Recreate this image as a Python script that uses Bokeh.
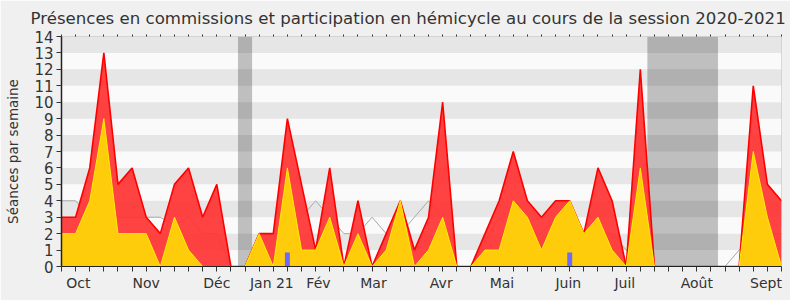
from bokeh.plotting import figure
from bokeh.models import FixedTicker, LinearAxis, Range1d
from bokeh.embed import file_html
from bokeh.resources import INLINE

# ---- data (one value per week, session 2020-2021) ----
semaines = list(range(52))
presences = [3, 3, 6, 13, 5, 6, 3, 2, 5, 6, 3, 5, 0, 0, 2, 2, 9, 5, 1, 6,
             0, 4, 0, 2, 4, 1, 3, 10, 0, 0, 2, 4, 7, 4, 3, 4, 4, 2, 6, 4,
             0, 12, 0, 0, 0, 0, 0, 0, 0, 11, 5, 4]
participations = [2, 2, 4, 9, 2, 2, 2, 0, 3, 1, 0, 0, 0, 0, 2, 0, 6, 1, 1, 3,
                  0, 2, 0, 1, 4, 0, 1, 3, 0, 0, 1, 1, 4, 3, 1, 3, 4, 2, 3, 1,
                  0, 6, 0, 0, 0, 0, 0, 0, 0, 7, 3, 0]
mediane = [4, 4, 3, 4, 3, 3, 3, 3, 2.5, 3, 2, 2, 0, 0, 2, 2, 2, 3, 4, 3,
           2, 2, 3, 2, 2, 3, 4, 3, 0, 0, 1.5, 3, 2, 2, 2, 3, 2, 1, 2, 2,
           1, 1, 0, 0, 0, 0, 0, 0, 1, 2, 2, 2]
questions = [0] * 52
questions[16] = 1
questions[36] = 1
vacances = [13, 42, 43, 44, 45, 46]
mois = ["Oct", "Nov", "Déc", "Jan 21", "Fév", "Mar", "Avr", "Mai", "Juin",
        "Juil", "Août", "Sept"]
mois_pos = [1.2, 6, 11, 14.9, 18.2, 22.1, 26.9, 31.2, 35.9, 39.9, 45, 49.9]
y_ticks = list(range(15))

TXT = "#333333"
FONT = "DejaVu Sans"

# group holiday weeks into contiguous runs
runs = []
for w in vacances:
    if runs and w == runs[-1][1] + 1:
        runs[-1][1] = w
    else:
        runs.append([w, w])
vac_left = [a - 0.5 for a, b in runs]
vac_right = [b + 0.5 for a, b in runs]

p = figure(width=790, height=300, output_backend="svg", toolbar_location=None,
           x_range=Range1d(0, 51), y_range=Range1d(0, 14),
           min_border_left=61, min_border_right=9, min_border_top=36,
           min_border_bottom=34,
           background_fill_color="#fafafa", border_fill_color="#f0f0f0",
           outline_line_color="#d8d8d8")

p.title.text = ("Présences en commissions et participation en hémicycle "
                "au cours de la session 2020-2021")
p.title.text_font = FONT
p.title.text_font_size = "16.6px"
p.title.text_font_style = "normal"
p.title.text_color = TXT
p.title.align = "left"
p.title.offset = -31
p.title.standoff = 13

# holidays (drawn below the grid bands)
vac = p.quad(left=vac_left, right=vac_right, bottom=0, top=14,
             fill_color="#bfbfbf", line_color=None)
vac.level = "image"

# grid bands
p.xgrid.visible = False
p.ygrid.ticker = FixedTicker(ticks=y_ticks)
p.ygrid.grid_line_color = None
p.ygrid.band_fill_color = "black"
p.ygrid.band_fill_alpha = 0.08

# median line
p.line(semaines, mediane, line_color="#a8a8a8", line_width=1)

# areas
p.varea(x=semaines, y1=0, y2=presences, fill_color="#ff3333", fill_alpha=0.92)
p.line(semaines, presences, line_color="#ff0000", line_width=1.6)
p.varea(x=semaines, y1=0, y2=participations, fill_color="#ffd40a",
        fill_alpha=0.95)
p.line(semaines, participations, line_color="#ffee00", line_width=1)

# oral questions
p.vbar(x=semaines, width=0.35, bottom=0, top=[q * 0.85 for q in questions],
       fill_color="#6b6bff", line_color=None)

# axes
xa = p.xaxis[0]
xa.ticker = FixedTicker(ticks=mois_pos, minor_ticks=semaines)
xa.major_label_overrides = {m_pos: m for m_pos, m in zip(mois_pos, mois)}
xa.major_tick_out = 0
xa.major_tick_in = 0
xa.minor_tick_out = 5
xa.minor_tick_in = 0
xa.minor_tick_line_color = "#333333"
xa.axis_line_color = "#222222"
xa.major_label_text_font = FONT
xa.major_label_text_font_size = "14px"
xa.major_label_text_color = TXT
xa.major_label_standoff = 3

ya = p.yaxis[0]
ya.ticker = FixedTicker(ticks=y_ticks)
ya.minor_tick_line_color = None
ya.major_tick_out = 5
ya.major_tick_in = 0
ya.major_tick_line_color = "#333333"
ya.axis_line_color = "#222222"
ya.axis_line_width = 1.5
ya.major_label_text_font = FONT
ya.major_label_text_font_size = "15px"
ya.major_label_text_color = TXT
ya.major_label_standoff = 3
ya.axis_label = "Séances par semaine"
ya.axis_label_text_font = FONT
ya.axis_label_text_font_size = "13.5px"
ya.axis_label_text_font_style = "normal"
ya.axis_label_text_color = TXT
ya.axis_label_standoff = 10

top = LinearAxis(ticker=FixedTicker(ticks=[], minor_ticks=semaines))
top.axis_line_color = None
top.major_tick_line_color = None
top.minor_tick_out = 2
top.minor_tick_in = 0
top.minor_tick_line_color = "#333333"
top.major_label_text_font_size = "0px"
top.major_label_standoff = 0
p.add_layout(top, "above")

open("out.html", "w").write(file_html(p, INLINE))
